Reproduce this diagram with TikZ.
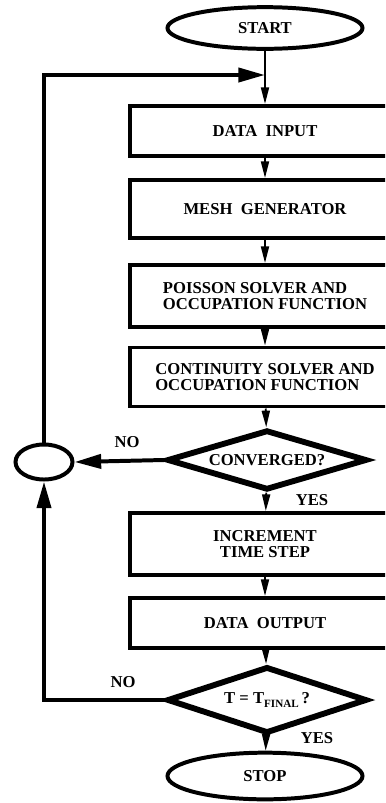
\documentclass[tikz,border=0pt]{standalone}
\usepackage{fontspec}
\setmainfont{Liberation Serif}
\usetikzlibrary{shapes.geometric}
\usetikzlibrary{arrows.meta}

\begin{document}
\begin{tikzpicture}[x=0.03cm, y=-0.03cm,
  every node/.style={font=\fontsize{14.2}{13}\selectfont\bfseries},
  proc/.style={draw, line width=3.4pt, minimum width=8.1cm, inner sep=0pt},
  term/.style={draw, ellipse, line width=3.4pt, minimum width=5.85cm, inner sep=0pt},
  test/.style={draw, diamond, aspect=3.3, line width=5pt, minimum width=6cm, inner sep=0pt},
  flow/.style={line width=1.6pt, -{Triangle[length=0.5cm,width=0.24cm]}},
  back/.style={line width=3.4pt, -{Triangle[length=0.8cm,width=0.42cm]}},
]
  \useasboundingbox (0,0) rectangle (385,803);
  \clip (0,0) rectangle (385,803);
  % main column
  \node[term, minimum height=1.25cm] (start) at (265,28) {START};
  \node[proc, minimum height=1.5cm] (input) at (265,131) {DATA\ \ INPUT};
  \node[proc, minimum height=1.74cm] (mesh) at (265,209) {MESH\ \ GENERATOR};
  \node[proc, minimum height=1.86cm, align=left] (poisson) at (265,296)
    {POISSON SOLVER AND\\OCCUPATION FUNCTION};
  \node[proc, minimum height=1.77cm, align=left] (cont) at (265,377)
    {CONTINUITY SOLVER AND\\OCCUPATION FUNCTION};
  \node[test, minimum height=1.8cm] (conv) at (267,460) {CONVERGED?};
  \node[proc, minimum height=1.86cm, align=center] (incr) at (265,544)
    {INCREMENT\\TIME STEP};
  \node[proc, minimum height=1.5cm] (output) at (265,623) {DATA\ \ OUTPUT};
  \node[test, minimum height=2.0cm] (final) at (267,700)
    {T = T\raisebox{-0.6ex}{\fontsize{9.5}{9.5}\selectfont FINAL}\,?};
  \node[term, minimum height=1.4cm] (stop) at (265,776) {STOP};
  % loop back
  \node[draw, ellipse, line width=3.4pt, minimum width=1.71cm, minimum height=1.05cm] (merge) at (44,462) {};
  \coordinate (join) at (265,75);
  \coordinate (topleft) at (44,75);
  \coordinate (botleft) at (44,700);

  \draw[line width=1.6pt] (start) -- (join);
  \draw[flow] (join) -- (input);
  \draw[flow] (input) -- (mesh);
  \draw[flow] (mesh) -- (poisson);
  \draw[flow] (poisson) -- (cont);
  \draw[flow] (cont) -- (conv);
  \draw[flow] (conv) -- (incr);
  \draw[flow] (incr) -- (output);
  \draw[flow] (output) -- (final);
  \draw[flow] (final) -- (stop);

  \draw[back] (conv.west) -- (merge.east);
  \draw[back] (final.west) -- (botleft) -- (merge.south);
  \draw[back] (merge.north) -- (topleft) -- (join);

  \node (no1) at (127,442) {NO};
  \node (yes1) at (312,500) {YES};
  \node (no2) at (123,682) {NO};
  \node (yes2) at (317,738) {YES};
\end{tikzpicture}
\end{document}
